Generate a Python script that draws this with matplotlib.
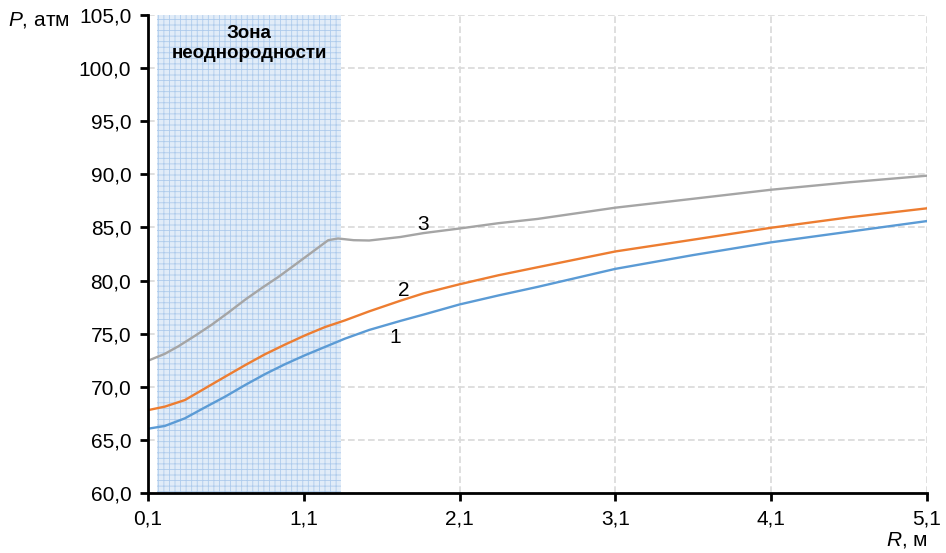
import numpy as np
import matplotlib
matplotlib.use("Agg")
import matplotlib.pyplot as plt
from matplotlib.ticker import FuncFormatter, MultipleLocator

plt.rcParams['font.family'] = ['Liberation Sans', 'DejaVu Sans']
plt.rcParams['mathtext.fontset'] = 'custom'
plt.rcParams['mathtext.rm'] = 'Liberation Sans'
plt.rcParams['mathtext.it'] = 'Liberation Sans:italic'
plt.rcParams['hatch.linewidth'] = 0.6

# радиус, м и давление, атм (кривые 1, 2)
r12 = [0.1, 0.208, 0.337, 0.466, 0.594, 0.723, 0.851, 0.979, 1.108, 1.236,
       1.364, 1.52, 1.72, 1.87, 2.1, 2.35, 2.6, 3.1, 3.6, 4.1, 4.6, 5.1]
p1 = [66.05, 66.31, 67.03, 68.06, 69.06, 70.16, 71.19, 72.12, 72.97, 73.75,
      74.53, 75.35, 76.2, 76.8, 77.75, 78.6, 79.4, 81.1, 82.4, 83.6, 84.6, 85.6]
p2 = [67.8, 68.13, 68.75, 69.85, 70.94, 72.03, 73.06, 73.97, 74.84, 75.62,
      76.25, 77.1, 78.1, 78.8, 79.65, 80.5, 81.25, 82.74, 83.85, 84.97, 85.95, 86.8]
# кривая 3
r3 = [0.1, 0.208, 0.294, 0.402, 0.51, 0.617, 0.724, 0.831, 0.938, 1.045, 1.152,
      1.257, 1.32, 1.42, 1.52, 1.72, 1.87, 2.1, 2.35, 2.6, 3.1, 3.6, 4.1, 4.6, 5.1]
p3 = [72.45, 73.1, 73.8, 74.8, 75.85, 77.0, 78.2, 79.3, 80.35, 81.5, 82.66,
      83.8, 83.96, 83.8, 83.77, 84.1, 84.47, 84.9, 85.4, 85.8, 86.86, 87.7,
      88.55, 89.25, 89.87]

zone = (0.158, 1.339)

fig = plt.figure(figsize=(9.46, 5.53), dpi=100)
ax = fig.add_axes([0.1564, 0.1085, 0.8235, 0.8644])

ax.axvspan(zone[0], zone[1], facecolor='#e1ecf8', edgecolor='#aecbec',
           hatch='+++', lw=0, zorder=1)

ax.plot(r12, p1, color='#5B9BD5', lw=1.7, zorder=3)
ax.plot(r12, p2, color='#ED7D31', lw=1.7, zorder=3)
ax.plot(r3, p3, color='#A5A5A5', lw=1.7, zorder=3)

ax.text(1.69, 74.6, '1', fontsize=15, ha='center', va='center')
ax.text(1.74, 79.1, '2', fontsize=15, ha='center', va='center')
ax.text(1.865, 85.25, '3', fontsize=15, ha='center', va='center')

ax.text((zone[0] + zone[1]) / 2, 102.3, 'Зона\nнеоднородности', fontsize=13.5,
        fontweight='bold', ha='center', va='center', linespacing=1.2, zorder=4)

ax.set_xlim(0.1, 5.1)
ax.set_ylim(60, 105)
ax.xaxis.set_major_locator(MultipleLocator(1.0, offset=0.1))
ax.yaxis.set_major_locator(MultipleLocator(5.0))
fmt = FuncFormatter(lambda v, _: f'{v:.1f}'.replace('.', ','))
ax.xaxis.set_major_formatter(fmt)
ax.yaxis.set_major_formatter(fmt)

ax.grid(True, color='#d9d9d9', lw=1.2, linestyle=(0, (4, 2)), zorder=2)
ax.set_axisbelow(True)
for s in ('top', 'right'):
    ax.spines[s].set_visible(False)
for s in ('left', 'bottom'):
    ax.spines[s].set_linewidth(2)
    ax.spines[s].set_zorder(5)
ax.tick_params(direction='out', length=6, width=2, labelsize=15, pad=6)

fig.text(0.008, 0.963, '$P$, атм', fontsize=15, ha='left', va='center')
fig.text(0.981, 0.023, '$R$, м', fontsize=15, ha='right', va='center')

fig.savefig('out.png', dpi=100)
